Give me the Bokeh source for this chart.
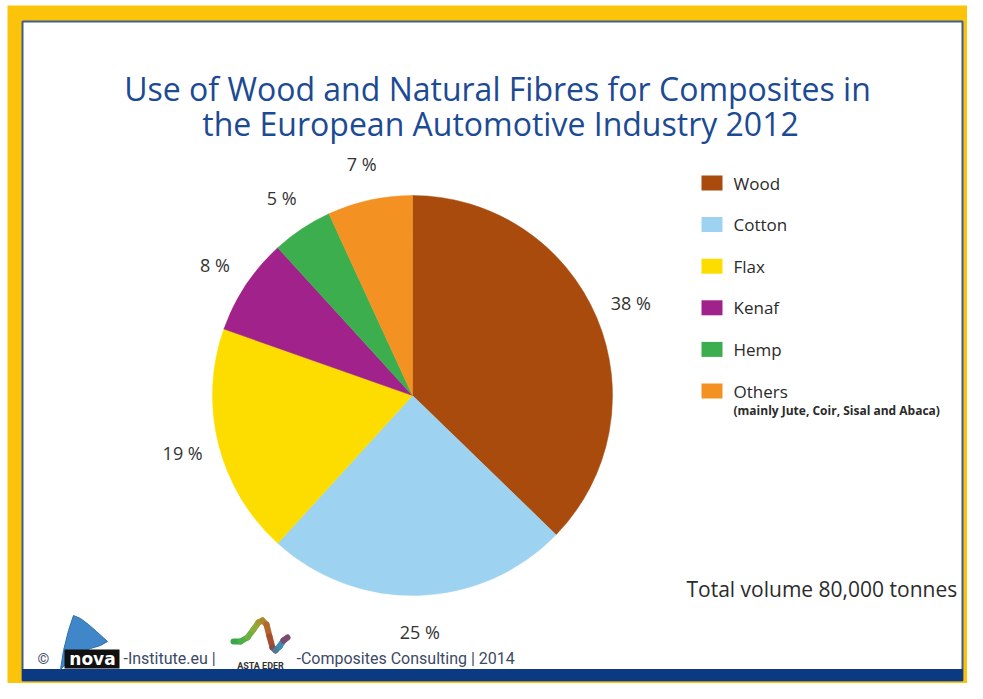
import numpy as np
from bokeh.plotting import figure
from bokeh.models import Range1d, ColumnDataSource
from bokeh.core.properties import value
from bokeh.embed import file_html
from bokeh.resources import INLINE

# ---- data ----
categories = ["Wood", "Cotton", "Flax", "Kenaf", "Hemp", "Others"]
shares = [38, 25, 19, 8, 5, 7]
colors = ["#A84B0C", "#9DD3F0", "#FDDC00", "#A0228A", "#3DAE4E", "#F39222"]
legend_notes = ["", "", "", "", "", "(mainly Jute, Coir, Sisal and Abaca)"]
title_lines = ["Use of Wood and Natural Fibres for Composites in",
               "the European Automotive Industry 2012"]
total_note = "Total volume 80,000 tonnes"
footer_left = "-Institute.eu |"
footer_right = "-Composites Consulting | 2014"

W, H = 967, 683


def Y(ry):
    return H - ry


p = figure(width=W, height=H, x_range=Range1d(0, W), y_range=Range1d(0, H),
           output_backend="svg", toolbar_location=None, min_border=0)
p.axis.visible = False
p.grid.visible = False
p.outline_line_color = None
YEL = "#FBC40A"
p.background_fill_color = "white"
p.border_fill_color = "white"

# frame
p.quad(left=7, right=W, top=Y(5), bottom=0, fill_color=YEL, line_color=None)
p.quad(left=22, right=962, top=Y(21), bottom=Y(680), fill_color="white",
       line_color="#3d5d8a", line_width=2)
p.quad(left=22, right=962, top=Y(669), bottom=Y(680), fill_color="#0B3A82",
       line_color="#0B3A82")

# title
FONT = value("Open Sans")
p.text(x=[497, 500], y=[Y(88), Y(123)], text=title_lines, text_font=FONT,
       text_font_size="32px", text_color="#1c4a93", text_align="center",
       text_baseline="alphabetic")

# pie
cx, cy, R = 412, Y(395), 200
fr = np.array(shares, dtype=float) / sum(shares)
cum = np.concatenate([[0.0], np.cumsum(fr)])
start = np.pi / 2 - 2 * np.pi * cum[:-1]
end = np.pi / 2 - 2 * np.pi * cum[1:]
src = ColumnDataSource(dict(start=start, end=end, color=colors, cat=categories))
p.wedge(x=cx, y=cy, radius=R, start_angle="start", end_angle="end",
        direction="clock", fill_color="color", line_color="color",
        line_width=0.5, source=src)

mid = (start + end) / 2
LR = 237
p.text(x=cx + LR * np.cos(mid), y=cy + LR * np.sin(mid),
       text=[f"{s} %" for s in shares], text_font=FONT, text_font_size="18px",
       text_color="#333333", text_align="center", text_baseline="middle")

# legend
rows = np.arange(len(categories))
ly = np.array([Y(182.5 + 41.6 * i) for i in rows])
p.rect(x=711.5, y=ly, width=21, height=15, fill_color=colors, line_color=None)
p.text(x=733, y=ly, text=categories, text_font=FONT, text_font_size="17px",
       text_color="#2a2a2a", text_align="left", text_baseline="middle")
note_idx = [i for i, n in enumerate(legend_notes) if n]
p.text(x=[733] * len(note_idx), y=[ly[i] - 19 for i in note_idx],
       text=[legend_notes[i] for i in note_idx], text_font=FONT,
       text_font_size="12px", text_font_style="bold", text_color="#2a2a2a",
       text_align="left", text_baseline="middle")

# total note
p.text(x=[686], y=[Y(588)], text=[total_note], text_font=FONT,
       text_font_size="21px", text_color="#2b2b2b", text_align="left",
       text_baseline="middle")

# footer
RB = value("Roboto")
p.text(x=[37], y=[Y(658)], text=["©"], text_font=RB, text_font_size="15px",
       text_color="#3b4a66", text_align="left", text_baseline="middle")
# nova logo (sail + box)
p.patch(x=[60, 63, 68, 73, 80, 88, 96, 107, 100, 90, 80, 72, 65],
        y=[Y(669), Y(650), Y(630), Y(615), Y(618), Y(624), Y(631), Y(641),
           Y(645), Y(648), Y(652), Y(658), Y(664)],
        fill_color="#3F87C8", line_color="#2f6fae", line_width=1)
p.quad(left=64, right=119, top=Y(649), bottom=Y(668), fill_color="#111111",
       line_color=None)
p.text(x=[92], y=[Y(658)], text=["nova"], text_font=value("DejaVu Sans"),
       text_font_size="17px", text_font_style="bold", text_color="white",
       text_align="center", text_baseline="middle")
p.text(x=[123], y=[Y(658)], text=[footer_left], text_font=RB,
       text_font_size="16px", text_color="#3b4a66", text_align="left",
       text_baseline="middle")
# asta eder wave logo
wx = np.array([233, 240, 247, 253, 258, 262, 266, 269, 272, 275, 279, 283, 287])
wy = np.array([641, 641, 637, 629, 622, 620, 624, 636, 647, 650, 646, 640, 637])
wc = ["#3aa84a", "#4caf48", "#6fb040", "#8fab38", "#a29a30", "#ad852e",
      "#b0682c", "#a84e30", "#8a4a4a", "#4a7aa0", "#3a8cb0", "#7a4a70"]
p.multi_line(xs=[[wx[i], wx[i + 1]] for i in range(len(wx) - 1)],
             ys=[[Y(wy[i]), Y(wy[i + 1])] for i in range(len(wy) - 1)],
             line_color=wc, line_width=6, line_cap="round")
p.text(x=[260], y=[Y(665)], text=["ASTA EDER"], text_font=RB,
       text_font_size="9px", text_font_style="bold", text_color="#333333",
       text_align="center", text_baseline="middle")
p.text(x=[296], y=[Y(658)], text=[footer_right], text_font=RB,
       text_font_size="16px", text_color="#3b4a66", text_align="left",
       text_baseline="middle")

open("out.html", "w").write(file_html(p, INLINE))
